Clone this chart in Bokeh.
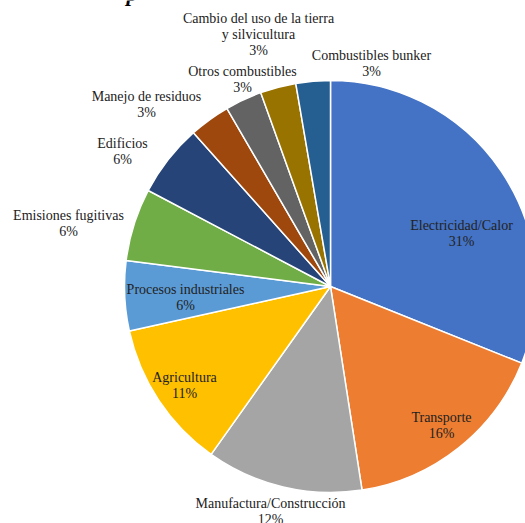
import math
from bokeh.plotting import figure
from bokeh.models import ColumnDataSource, Range1d, Label
from bokeh.core.properties import value
from bokeh.embed import file_html
from bokeh.resources import INLINE

# ---------------- data ----------------
categories = [
    "Electricidad/Calor", "Transporte", "Manufactura/Construcción", "Agricultura",
    "Procesos industriales", "Emisiones fugitivas", "Edificios", "Manejo de residuos",
    "Otros combustibles", "Cambio del uso de la tierra\ny silvicultura", "Combustibles bunker",
]
values = [31.1, 16.5, 12.3, 11.7, 5.5, 5.7, 5.7, 3.2, 2.9, 2.8, 2.7]
percent_labels = ["31%", "16%", "12%", "11%", "6%", "6%", "6%", "3%", "3%", "3%", "3%"]

# ---------------- style / layout ----------------
colors = ["#4472C4", "#ED7D31", "#A5A5A5", "#FFC000", "#5B9BD5", "#70AD47",
          "#264478", "#9E480E", "#636363", "#997300", "#255E91"]
W, H = 525, 523
cx, cy, R = 330, H - 286, 206
# label centres (screen pixels from top-left) of the first text line
label_px = [(461, 225), (441, 417), (270, 503), (184, 377), (185, 289), (68, 215),
            (122, 143), (146, 96), (242, 71), (258, 18), (371, 55)]
line_h = 16
FONT = "Liberation Serif"

total = sum(values)
starts, ends = [], []
cum = 0.0
for v in values:
    starts.append(math.pi / 2 - 2 * math.pi * cum / total)
    cum += v
    ends.append(math.pi / 2 - 2 * math.pi * cum / total)

p = figure(width=W, height=H, output_backend="svg", toolbar_location=None,
           x_range=Range1d(0, W), y_range=Range1d(0, H), min_border=0)
p.axis.visible = False
p.grid.visible = False
p.outline_line_color = None
p.background_fill_color = "white"
p.border_fill_color = "white"

wsrc = ColumnDataSource(dict(start=starts, end=ends, color=colors, cat=categories))
p.wedge(x=cx, y=cy, radius=R, start_angle="start", end_angle="end", direction="clock",
        fill_color="color", line_color="white", line_width=1.5, source=wsrc)

tx, ty, tt = [], [], []
for cat, pct, (lx, ly) in zip(categories, percent_labels, label_px):
    lines = cat.split("\n") + [pct]
    for i, ln in enumerate(lines):
        tx.append(lx)
        ty.append(H - (ly + i * line_h))
        tt.append(ln)
tsrc = ColumnDataSource(dict(x=tx, y=ty, t=tt))
p.text(x="x", y="y", text="t", source=tsrc, text_align="center", text_baseline="middle",
       text_font=value(FONT), text_font_size="14px", text_color="#222222")

# fragment of the cut-off title at the very top (only its descender is visible)
p.add_layout(Label(x=126, y=H + 7, text="p", text_font=FONT, text_font_size="22px",
                   text_font_style="bold italic", text_color="#000000",
                   text_baseline="alphabetic", text_align="left"))

open("out.html", "w").write(file_html(p, INLINE))
